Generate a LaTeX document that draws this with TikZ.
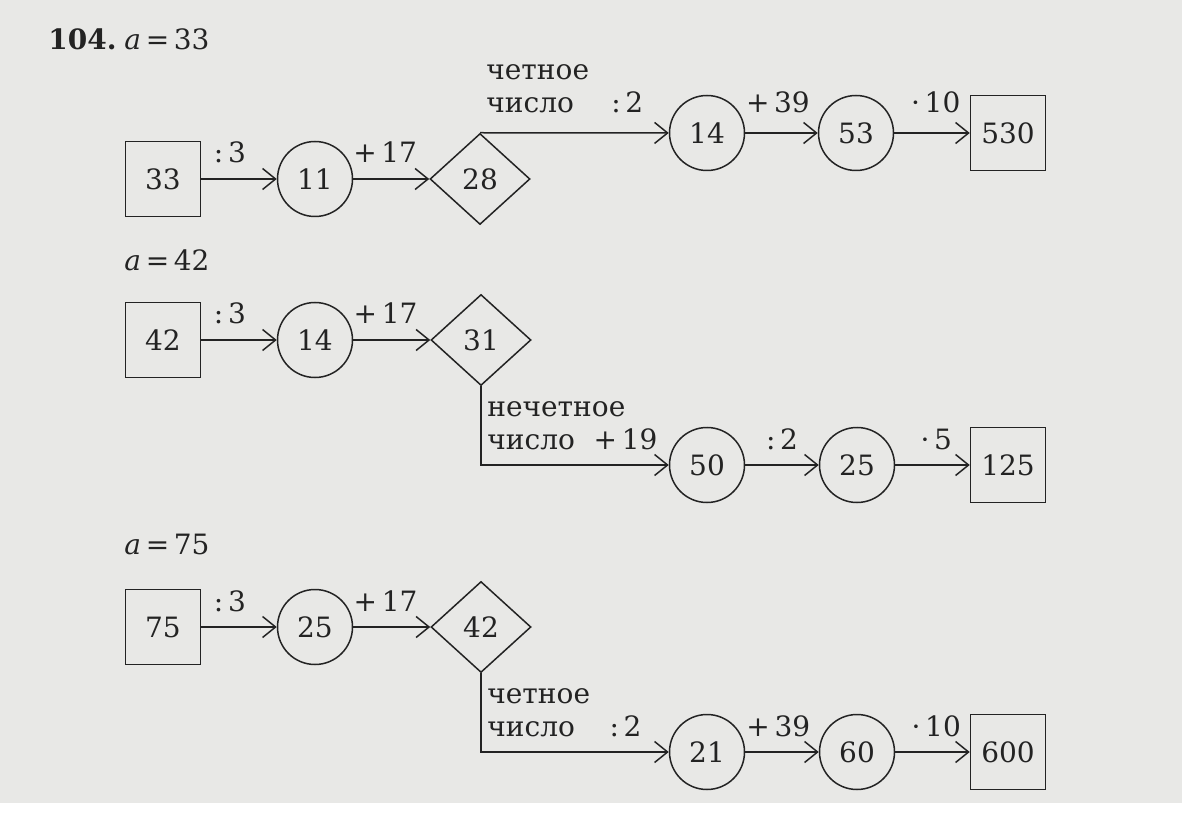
\documentclass[tikz,border=0pt]{standalone}
\usepackage{fontspec}
\setmainfont{DejaVu Serif}
\usetikzlibrary{shapes.geometric,arrows.meta}
\definecolor{paper}{RGB}{232,232,230}
\definecolor{ink}{RGB}{35,35,35}
\tikzstyle{box}   = [draw=ink, line width=0.75pt, minimum size=37.5pt, inner sep=0pt, text=ink]
\tikzstyle{circ}  = [box, circle]
\tikzstyle{rhomb} = [draw=ink, line width=0.75pt, diamond, aspect=1.1, minimum width=50pt, minimum height=45.5pt, inner sep=0pt, text=ink]
\tikzstyle{arr}   = [draw=ink, line width=0.75pt, -{Straight Barb[length=6.5pt,width=10.5pt]}]
\tikzstyle{op}    = [anchor=base, yshift=8pt, inner sep=0pt, text=ink]
\tikzstyle{cond}  = [anchor=south west, align=left, inner sep=0pt, xshift=3pt, yshift=7.5pt, text=ink]
\tikzstyle{head}  = [anchor=base west, inner sep=0pt, text=ink]
\begin{document}
\begin{tikzpicture}[x=0.5pt, y=-0.5pt, font=\fontsize{14}{16.5}\selectfont]
  \fill[paper] (0,0) rectangle (1182,803);
  \useasboundingbox (0,0) rectangle (1182,839);

  \node[head] (num) at (48,50) {\textbf{104.}};
  \node[head] (a1)  at (124,50) {\textit{a}\,=\,33};
  \node[box]   (s1)  at (163,179)  {33};
  \node[circ]  (c11) at (315,179)  {11};
  \node[rhomb] (d1)  at (480,179)  {28};
  \node[circ]  (c12) at (707,133)  {14};
  \node[circ]  (c13) at (856,133)  {53};
  \node[box]   (s12) at (1008,133) {530};
  \draw[arr] (s1)  -- node[op,pos=.38] {:\,3}   (c11);
  \draw[arr] (c11) -- node[op,pos=.42] {+\,17}  (d1);
  \draw[arr] (d1.north) -- node[op,pos=.78,yshift=2pt] {:\,2} (c12);
  \node[cond,yshift=2pt] (e1) at (d1.north) {четное\\число};
  \draw[arr] (c12) -- node[op,pos=.45,yshift=2pt] {+\,39}  (c13);
  \draw[arr] (c13) -- node[op,pos=.55,yshift=2pt] {·\,10}  (s12);

  \node[head] (a2)  at (124,271) {\textit{a}\,=\,42};
  \node[box]   (s2)  at (163,340)  {42};
  \node[circ]  (c21) at (315,340)  {14};
  \node[rhomb] (d2)  at (481,340)  {31};
  \coordinate  (k2)  at (481,465);
  \node[circ]  (c22) at (707,465)  {50};
  \node[circ]  (c23) at (857,465)  {25};
  \node[box]   (s22) at (1008,465) {125};
  \draw[arr] (s2)  -- node[op,pos=.38] {:\,3}   (c21);
  \draw[arr] (c21) -- node[op,pos=.42] {+\,17}  (d2);
  \draw[arr] (d2.south) -- (k2) -- node[op,pos=.77] {+\,19} (c22);
  \node[cond] (e2) at (k2) {нечетное\\число};
  \draw[arr] (c22) -- node[op,pos=.5]  {:\,2}   (c23);
  \draw[arr] (c23) -- node[op,pos=.55] {·\,5}   (s22);

  \node[head] (a3)  at (124,554) {\textit{a}\,=\,75};
  \node[box]   (s3)  at (163,627)  {75};
  \node[circ]  (c31) at (315,627)  {25};
  \node[rhomb] (d3)  at (481,627)  {42};
  \coordinate  (k3)  at (481,752);
  \node[circ]  (c32) at (707,752)  {21};
  \node[circ]  (c33) at (857,752)  {60};
  \node[box]   (s32) at (1008,752) {600};
  \draw[arr] (s3)  -- node[op,pos=.38] {:\,3}   (c31);
  \draw[arr] (c31) -- node[op,pos=.42] {+\,17}  (d3);
  \draw[arr] (d3.south) -- (k3) -- node[op,pos=.77] {:\,2} (c32);
  \node[cond] (e3) at (k3) {четное\\число};
  \draw[arr] (c32) -- node[op,pos=.45] {+\,39}  (c33);
  \draw[arr] (c33) -- node[op,pos=.55] {·\,10}  (s32);
\end{tikzpicture}
\end{document}
